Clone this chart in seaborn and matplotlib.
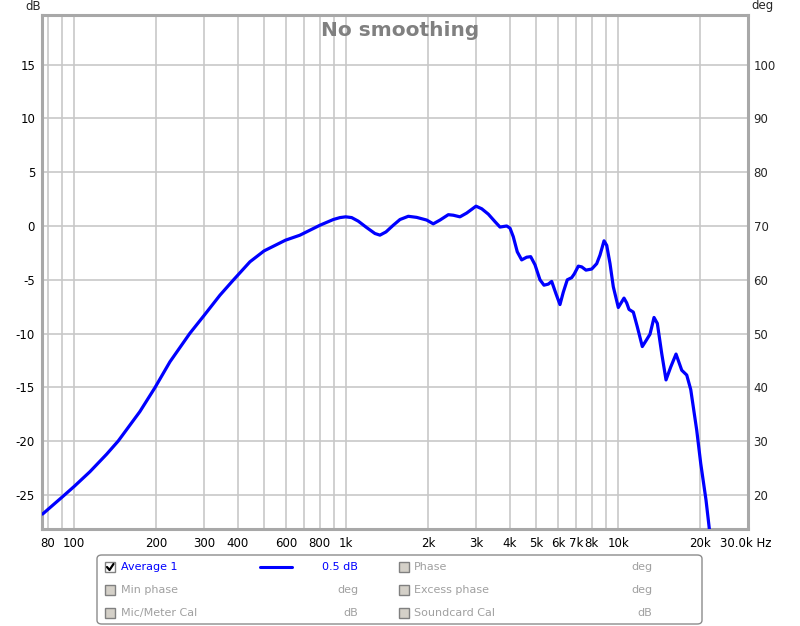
import numpy as np
import pandas as pd
import matplotlib
matplotlib.use("Agg")
import matplotlib.pyplot as plt
import seaborn as sns
from matplotlib.patches import FancyBboxPatch, Rectangle
from matplotlib.lines import Line2D
from matplotlib.transforms import ScaledTranslation

# ---- data ----
freq_hz = [76.6, 90.4, 100.1, 114.3, 131.7, 145.2, 174.4, 198.2, 225.0, 266.2, 300.9,
           343.6, 384.6, 442.8, 499.5, 598.3, 675.4, 801, 896.7, 949, 995.8, 1047.6,
           1107.7, 1189.8, 1276, 1331, 1401, 1490, 1577, 1692, 1816, 1977, 2090, 2213,
           2374, 2476, 2620, 2773, 3001, 3150, 3331, 3525, 3677, 3892, 4002, 4115, 4256,
           4418, 4609, 4768, 4944, 5158, 5336, 5534, 5695, 5906, 6109, 6283, 6499, 6745,
           6896, 7135, 7343, 7613, 7991, 8337, 8573, 8869, 9074, 9331, 9594, 10009,
           10302, 10503, 10747, 10957, 11364, 11755, 12264, 12730, 13090, 13541, 13926,
           14454, 14989, 15598, 16314, 17122, 17862, 18478, 19434, 20104, 21024, 21618,
           22500]
spl_db = [-26.76, -25.18, -24.19, -22.83, -21.2, -19.98, -17.25, -15.02, -12.62, -9.98,
          -8.29, -6.43, -5.03, -3.33, -2.31, -1.32, -0.86, 0.07, 0.6, 0.78, 0.85, 0.78,
          0.45, -0.15, -0.7, -0.85, -0.55, 0.07, 0.6, 0.9, 0.8, 0.55, 0.2, 0.55,
          1.05, 1.0, 0.85, 1.2, 1.84, 1.6, 1.1, 0.4, -0.1, 0.0, -0.2, -1.0, -2.4,
          -3.15, -2.9, -2.85, -3.6, -5.0, -5.5, -5.4, -5.15, -6.3, -7.3, -6.15, -5.0, -4.8,
          -4.45, -3.73, -3.8, -4.1, -4.0, -3.5, -2.7, -1.38, -1.8, -3.5, -5.65, -7.57,
          -7.05, -6.7, -7.15, -7.75, -8.0, -9.37, -11.2, -10.55, -10.05, -8.5, -9.05,
          -11.85, -14.3, -13.1, -11.9, -13.4, -13.85, -15.2, -18.96, -22.05, -25.45,
          -28.1, -31.0]

x_ticks = [80, 100, 200, 300, 400, 600, 800, 1000, 2000, 3000, 4000, 5000, 6000, 7000,
           8000, 10000, 20000, 30000]
x_tick_labels = ["80", "100", "200", "300", "400", "600", "800", "1k", "2k", "3k", "4k",
                 "5k", "6k", "7k", "8k", "10k", "20k", "30.0k Hz"]
x_grid = [80, 90, 100, 200, 300, 400, 500, 600, 700, 800, 900, 1000, 2000, 3000, 4000,
          5000, 6000, 7000, 8000, 9000, 10000, 20000]
db_ticks = [-25, -20, -15, -10, -5, 0, 5, 10, 15]
deg_ticks = [20, 30, 40, 50, 60, 70, 80, 90, 100]

legend_left = ["Average 1", "Min phase", "Mic/Meter Cal"]
legend_left_units = ["0.5 dB", "deg", "dB"]
legend_right = ["Phase", "Excess phase", "Soundcard Cal"]
legend_right_units = ["deg", "deg", "dB"]

df = pd.DataFrame({"freq": freq_hz, "spl": spl_db})

# ---- figure ----
sns.set_style("white")
plt.rcParams["font.family"] = ["DejaVu Sans"]
W, H = 800, 626
fig = plt.figure(figsize=(W / 100, H / 100), dpi=100)

def fx(x):
    return x / W

def fy(y):
    return 1 - y / H

ax = fig.add_axes([fx(42), fy(529), fx(748) - fx(42), fy(15) - fy(529)])
ax.set_xscale("log")
YMIN, YMAX = -28.15, 19.6
ax.set_xlim(76.2, 30000)
ax.set_ylim(YMIN, YMAX)

grid_c = "#c8c8c8"
for g in x_grid:
    ax.axvline(g, color=grid_c, lw=1.2, zorder=0)
for t in db_ticks:
    ax.axhline(t, color=grid_c, lw=1.2, zorder=0)

sns.lineplot(data=df, x="freq", y="spl", ax=ax, color="#0000ff", lw=2.3,
             solid_joinstyle="round", solid_capstyle="round", zorder=3)
ax.set_xlabel("")
ax.set_ylabel("")

ax.set_xticks(x_ticks)
ax.set_xticklabels(x_tick_labels)
ax.minorticks_off()
ax.set_yticks(db_ticks)
ax.set_yticklabels([str(t) for t in db_ticks])
ax.tick_params(axis="both", length=0, labelsize=8.5, colors="#000000")
ax.tick_params(axis="x", pad=6)
ax.tick_params(axis="y", pad=5)
lbls = ax.get_xticklabels()
lbls[-1].set_horizontalalignment("left")
lbls[-1].set_transform(lbls[-1].get_transform() + ScaledTranslation(-0.28, 0, fig.dpi_scale_trans))

for s in ax.spines.values():
    s.set_color("#a8a8a8")
    s.set_linewidth(2.2)

ax2 = ax.twinx()
ax2.set_ylim(70 + 2 * YMIN, 70 + 2 * YMAX)
ax2.set_yticks(deg_ticks)
ax2.set_yticklabels([str(t) for t in deg_ticks])
ax2.tick_params(axis="y", length=0, labelsize=8.5, pad=4)
for s in ax2.spines.values():
    s.set_visible(False)

fig.text(fx(33), fy(6), "dB", fontsize=8.5, ha="center", va="center")
fig.text(fx(762), fy(6), "deg", fontsize=8.5, ha="center", va="center")
fig.text(fx(400), fy(30), "No smoothing", fontsize=14.5, fontweight="bold",
         color="#808080", ha="center", va="center")

# ---- legend panel ----
box = FancyBboxPatch((fx(97), fy(624)), fx(702) - fx(97), fy(555) - fy(624),
                     boxstyle="round,pad=0,rounding_size=0.006",
                     transform=fig.transFigure, facecolor="white",
                     edgecolor="#8c8c8c", lw=1.0)
fig.patches.append(box)

rows_y = [567, 590, 613]

def checkbox(x, y, checked):
    r = Rectangle((fx(x), fy(y + 5)), 10 / W, 10 / H, transform=fig.transFigure,
                  facecolor="white" if checked else "#d4d0c8",
                  edgecolor="#808080", lw=1.0)
    fig.patches.append(r)
    if checked:
        fig.lines.append(Line2D([fx(x + 2), fx(x + 4.5), fx(x + 8.5)],
                                [fy(y), fy(y + 3), fy(y - 3)],
                                transform=fig.transFigure, color="black", lw=1.6))

for i, (name, unit) in enumerate(zip(legend_left, legend_left_units)):
    y = rows_y[i]
    active = (i == 0)
    col = "#0000ff" if active else "#a0a0a0"
    checkbox(105, y, active)
    fig.text(fx(121), fy(y), name, fontsize=8, color=col, ha="left", va="center")
    fig.text(fx(358), fy(y), unit, fontsize=8, color=col, ha="right", va="center")
    if active:
        fig.lines.append(Line2D([fx(260), fx(292)], [fy(y), fy(y)],
                                transform=fig.transFigure, color="#0000ff", lw=2.2))

for i, (name, unit) in enumerate(zip(legend_right, legend_right_units)):
    y = rows_y[i]
    checkbox(399, y, False)
    fig.text(fx(414), fy(y), name, fontsize=8, color="#a0a0a0", ha="left", va="center")
    fig.text(fx(652), fy(y), unit, fontsize=8, color="#a0a0a0", ha="right", va="center")

fig.savefig("out.png", dpi=100)
